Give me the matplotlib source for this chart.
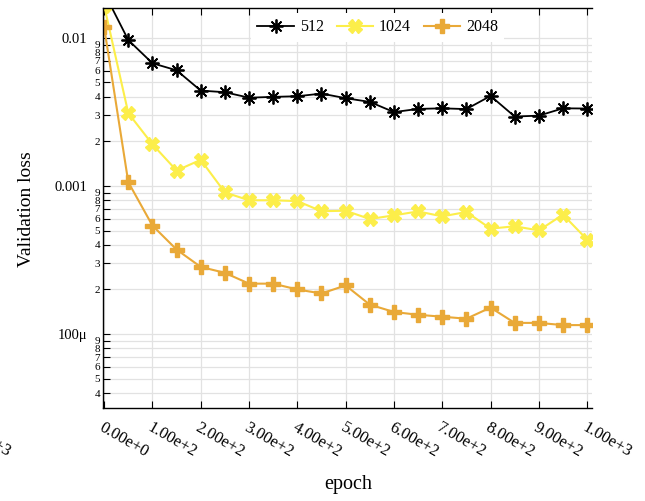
import matplotlib
matplotlib.use("Agg")
import matplotlib.pyplot as plt
import matplotlib.transforms as mtransforms
from matplotlib.ticker import FixedLocator, FixedFormatter

plt.rcParams['font.family'] = ['Liberation Serif', 'DejaVu Serif']

epochs = [0, 50, 100, 150, 200, 250, 300, 350, 400, 450, 500,
          550, 600, 650, 700, 750, 800, 850, 900, 950, 1000]

loss_512 = [0.0202, 0.00965, 0.00673, 0.00603, 0.0044, 0.00429, 0.00394, 0.00399, 0.00403, 0.0042, 0.00391,
            0.00369, 0.00315, 0.00331, 0.00334, 0.0033, 0.00405, 0.00294, 0.00298, 0.00334, 0.00333]
loss_1024 = [0.0165, 0.0031, 0.00191, 0.00127, 0.0015, 0.000904, 0.0008, 0.0008, 0.00079, 0.000675, 0.00068,
             0.000598, 0.000633, 0.000673, 0.000623, 0.000667, 0.000515, 0.000534, 0.000501, 0.00064, 0.000434]
loss_2048 = [0.0118, 0.00106, 0.00054, 0.000372, 0.000284, 0.000259, 0.000219, 0.000219, 0.0002, 0.000188, 0.000213,
             0.000158, 0.000141, 0.000135, 0.000131, 0.000127, 0.000151, 0.000119, 0.000119, 0.000115, 0.000115]

series_names = ["512", "1024", "2048"]

x_ticks = [0, 100, 200, 300, 400, 500, 600, 700, 800, 900, 1000]
x_labels = ["0.00e+0", "1.00e+2", "2.00e+2", "3.00e+2", "4.00e+2", "5.00e+2",
            "6.00e+2", "7.00e+2", "8.00e+2", "9.00e+2", "1.00e+3"]

y_major = [1e-4, 1e-3, 1e-2]
y_major_labels = ["100\u03bc", "0.001", "0.01"]
y_minor = [4e-5, 5e-5, 6e-5, 7e-5, 8e-5, 9e-5,
           2e-4, 3e-4, 4e-4, 5e-4, 6e-4, 7e-4, 8e-4, 9e-4,
           2e-3, 3e-3, 4e-3, 5e-3, 6e-3, 7e-3, 8e-3, 9e-3]
y_minor_labels = ["4", "5", "6", "7", "8", "9",
                  "2", "3", "4", "5", "6", "7", "8", "9",
                  "2", "3", "4", "5", "6", "7", "8", "9"]

fig = plt.figure(figsize=(6.45, 5.01), dpi=100)
ax = fig.add_axes([0.1592, 0.1856, 0.7586, 0.7994])

ax.plot(epochs, loss_512, color='black', lw=1.3, marker=(8, 2, 0), ms=10, mew=1.3, label=series_names[0])
ax.plot(epochs, loss_1024, color='#fcee4a', lw=1.5, marker='X', ms=9.5, label=series_names[1])
ax.plot(epochs, loss_2048, color='#e9a938', lw=1.5, marker='P', ms=9.5, label=series_names[2])

ax.set_yscale('log')
ax.set_xlim(-3, 1010)
ax.set_ylim(3.17e-5, 0.016)

ax.xaxis.set_major_locator(FixedLocator(x_ticks))
ax.xaxis.set_major_formatter(FixedFormatter(x_labels))
ax.yaxis.set_major_locator(FixedLocator(y_major))
ax.yaxis.set_major_formatter(FixedFormatter(y_major_labels))
ax.yaxis.set_minor_locator(FixedLocator(y_minor))
ax.yaxis.set_minor_formatter(FixedFormatter(y_minor_labels))

for lab in ax.get_xticklabels():
    lab.set_rotation(-30)
    lab.set_ha('left')
    lab.set_va('top')
    lab.set_rotation_mode('anchor')

ax.tick_params(axis='x', which='both', direction='in', top=True, length=5, width=0.8, pad=8, labelsize=12)
ax.tick_params(axis='y', which='major', direction='in', length=5, width=0.8, pad=11, labelsize=10.5)
ax.tick_params(axis='y', which='minor', direction='in', length=5, width=0.8, pad=2, labelsize=8)
ax.spines['right'].set_visible(False)
for s in ['left', 'bottom', 'top']:
    ax.spines[s].set_linewidth(1.0)

ax.grid(True, which='major', color='#e2e2e2', lw=0.9)
ax.grid(True, which='minor', axis='y', color='#e2e2e2', lw=0.9)
ax.set_axisbelow(True)

leg = ax.legend(loc='center', bbox_to_anchor=(0.562, 0.951), ncol=3, fontsize=11.5,
                frameon=True, fancybox=False, edgecolor='none', facecolor='white', framealpha=1,
                handlelength=2.3, handletextpad=0.35, columnspacing=0.8, borderpad=0.4)

# label spilling in from the left edge, as in the original export
tr = mtransforms.offset_copy(ax.get_xaxis_transform(), fig=fig, y=-8, units='points')
ax.text(-285, 0, "1.00e+3", transform=tr, rotation=-30, ha='left', va='top',
        rotation_mode='anchor', clip_on=False, fontsize=12)

fig.text(27 / 645, 1 - 209 / 501, "Validation loss", rotation=90, ha='center', va='center', fontsize=14)
fig.text(348 / 645, 1 - 484 / 501, "epoch", ha='center', va='center', fontsize=14.5)

fig.savefig("out.png", dpi=100)
